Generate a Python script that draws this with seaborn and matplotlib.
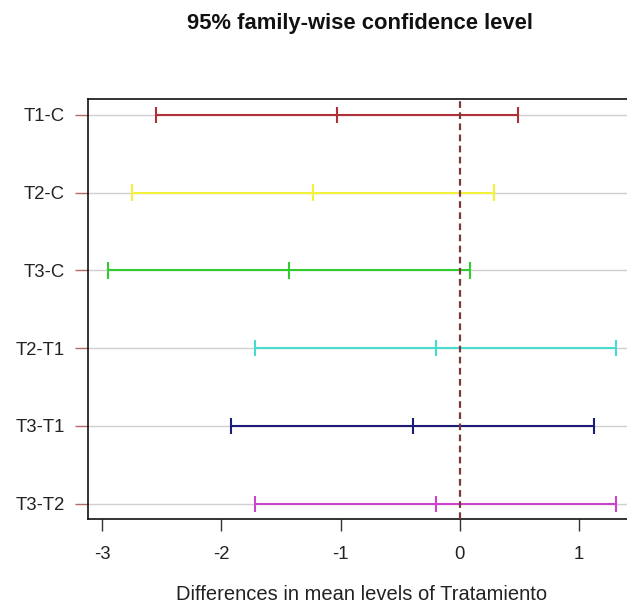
import matplotlib
matplotlib.use("Agg")
import matplotlib.pyplot as plt
import numpy as np
import pandas as pd
import seaborn as sns

# Tukey HSD comparisons: estimated difference and 95% family-wise interval
comparisons = ["T1-C", "T2-C", "T3-C", "T2-T1", "T3-T1", "T3-T2"]
diff = [-1.03, -1.23, -1.43, -0.20, -0.39, -0.20]
lwr = [-2.55, -2.75, -2.95, -1.72, -1.92, -1.72]
upr = [0.49, 0.29, 0.09, 1.31, 1.13, 1.31]
colors = ["#b0303a", "#f2f23c", "#30cc30", "#48dccf", "#1c1c78", "#cc44cc"]
x_ticks = [-3, -2, -1, 0, 1]

sns.set_style("white")
plt.rcParams["font.family"] = ["Liberation Sans", "DejaVu Sans"]

n = len(comparisons)
pos = list(range(n, 0, -1))  # first comparison at the top

segments = pd.DataFrame({
    "comparison": comparisons * 2,
    "value": lwr + upr,
    "pos": pos * 2,
})
marks = pd.DataFrame({
    "comparison": comparisons * 3,
    "value": lwr + diff + upr,
    "pos": pos * 3,
})
palette = dict(zip(comparisons, colors))

fig = plt.figure(figsize=(6.27, 6.06), dpi=100)
ax = fig.add_axes([0.1404, 0.1431, 0.874, 0.693])

# light horizontal guides at every comparison
for p in pos:
    ax.axhline(p, color="#d0d0d0", lw=1.0, zorder=0)

sns.lineplot(data=segments, x="value", y="pos", hue="comparison",
             units="comparison", estimator=None, sort=False,
             palette=palette, linewidth=1.5, legend=False, ax=ax, zorder=2)
sns.scatterplot(data=marks, x="value", y="pos", hue="comparison",
                palette=palette, marker="|", s=140, linewidth=1.5,
                legend=False, ax=ax, zorder=3)

ax.axvline(0, color="#7a3a3a", lw=1.6, ls=(0, (3, 2)), zorder=4)

lo = min(lwr)
hi = max(upr)
ext = 0.04 * (hi - lo)
ax.set_xlim(lo - ext, hi + ext)
ax.set_ylim(1 - 0.04 * (n - 1), n + 0.04 * (n - 1))

ax.set_yticks(pos)
ax.set_yticklabels(comparisons)
ax.set_xticks(x_ticks)
ax.set_xticklabels([str(t) for t in x_ticks])

ax.tick_params(axis="y", which="both", left=True, length=9.5, width=1.0,
               color="#b06868", pad=7, labelsize=13.3, labelcolor="#222222")
ax.tick_params(axis="x", which="both", bottom=True, length=8.6, width=1.0,
               color="#333333", pad=10.5, labelsize=13.3, labelcolor="#222222")

for side in ["left", "bottom", "top", "right"]:
    ax.spines[side].set_visible(True)
    ax.spines[side].set_color("#111111")
    ax.spines[side].set_linewidth(1.2)

ax.set_ylabel("")
ax.set_xlabel("Differences in mean levels of Tratamiento", fontsize=14.5,
              color="#222222")
ax.xaxis.set_label_coords(0.5, -0.18)
ax.xaxis.label.set_va("center")

fig.text(360 / 627, 1 - 24 / 606, "95% family-wise confidence level",
         ha="center", va="center", fontsize=15.8, fontweight="bold",
         color="#111111")

fig.savefig("out.png", dpi=100)
